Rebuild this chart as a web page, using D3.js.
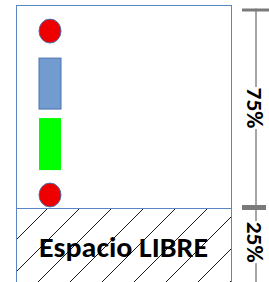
<!DOCTYPE html>
<html><head><meta charset="utf-8">
<script src="https://cdn.jsdelivr.net/npm/d3@7/dist/d3.min.js"></script>
<style>html,body{margin:0;padding:0;background:#fff;overflow:hidden}</style>
</head><body><svg id="c" width="269" height="282"></svg>
<script>
// ---- data ----
const segLabels = ["75%", "25%"];
const segShares = [75, 25];
const freeLabel = "Espacio LIBRE";
const itemShapes = ["circle", "rect", "rect", "circle"];
const itemColors = ["#ee0000", "#729ccf", "#00ff00", "#ee0000"];
const itemStrokes = ["#4a72b0", "#4a72b0", "none", "#4a72b0"];
const itemStart = [4.0, 18.7, 41.3, 65.8];   // % of total height
const itemEnd   = [13.0, 37.9, 60.9, 74.8];

// ---- layout ----
const svg = d3.select("#c");
const W = 269, H = 282;
const box = {x0: 16.5, x1: 231.5, top: 5.5};
const y = d3.scaleLinear().domain([0, 100]).range([8.5, 273.8]);
const cum = d3.cumsum(segShares); // [75,100]
const starts = [0, ...cum.slice(0, -1)];
const xItem = d3.scaleLinear().domain([0, 1]).range([39, 61]);
const FONT = "Carlito, Calibri, Lato, sans-serif";

// hatch pattern
const defs = svg.append("defs");
const pat = defs.append("pattern").attr("id", "hatch")
  .attr("patternUnits", "userSpaceOnUse").attr("width", 32).attr("height", 32)
  .attr("x", 15).attr("y", 209);
[-32, 0, 32].forEach(o => {
  pat.append("line").attr("x1", o).attr("y1", 32).attr("x2", o + 34).attr("y2", -2)
    .attr("stroke", "#000").attr("stroke-width", 0.9);
});

const divY = Math.round(y(cum[0])) + 0.5 + 1;
// free area hatch
svg.append("rect").attr("x", box.x0).attr("y", divY)
  .attr("width", box.x1 - box.x0).attr("height", H + 20 - divY)
  .attr("fill", "url(#hatch)");

// box outline
svg.append("rect").attr("x", box.x0).attr("y", box.top)
  .attr("width", box.x1 - box.x0).attr("height", H + 20)
  .attr("fill", "none").attr("stroke", "#5b86c5").attr("stroke-width", 1);
svg.append("line").attr("x1", box.x0).attr("x2", box.x1).attr("y1", divY).attr("y2", divY)
  .attr("stroke", "#5b86c5").attr("stroke-width", 1);

// items
itemShapes.forEach((s, i) => {
  const y0 = y(itemStart[i]), y1 = y(itemEnd[i]);
  if (s === "circle") {
    svg.append("ellipse").attr("cx", xItem(0.5)).attr("cy", (y0 + y1) / 2)
      .attr("rx", (xItem(1) - xItem(0)) / 2).attr("ry", (y1 - y0) / 2)
      .attr("fill", itemColors[i]).attr("stroke", itemStrokes[i]).attr("stroke-width", 1);
  } else {
    svg.append("rect").attr("x", xItem(0)).attr("y", y0)
      .attr("width", xItem(1) - xItem(0)).attr("height", y1 - y0)
      .attr("fill", itemColors[i]).attr("stroke", itemStrokes[i]).attr("stroke-width", 1);
  }
});

// free label (scaled horizontally to fit the reference width, keeping its height)
const fg = svg.append("g");
const ft = fg.append("text").attr("x", 0).attr("y", 0)
  .attr("text-anchor", "middle").attr("font-family", FONT)
  .attr("font-size", 29).attr("font-weight", 600).attr("fill", "#000").text(freeLabel);
const fl = ft.node().getComputedTextLength();
fg.attr("transform", `translate(123.5,257) scale(${169 / fl},1)`);

// bracket
const bx = 256;
svg.append("line").attr("x1", bx).attr("x2", bx).attr("y1", y(0)).attr("y2", H + 10)
  .attr("stroke", "#a6a6a6").attr("stroke-width", 2);
svg.append("line").attr("x1", 242).attr("x2", 270).attr("y1", y(0) + 1.5).attr("y2", y(0) + 1.5)
  .attr("stroke", "#7a7a7a").attr("stroke-width", 3);
svg.append("line").attr("x1", 242).attr("x2", 266).attr("y1", y(cum[0])).attr("y2", y(cum[0]))
  .attr("stroke", "#7a7a7a").attr("stroke-width", 5);

segLabels.forEach((lab, i) => {
  const cy = (y(starts[i]) + y(cum[i])) / 2 + (i === 1 ? 1.5 : 0);
  const g = svg.append("g").attr("transform", `translate(${bx - 1},${cy}) rotate(90)`);
  const bg = g.append("rect").attr("fill", "#fff");
  const inner = g.append("g");
  const t = inner.append("text").attr("text-anchor", "middle").attr("dy", "0.36em")
    .attr("font-family", FONT).attr("font-weight", 700)
    .attr("font-size", 22).attr("fill", "#000").text(lab);
  const L = t.node().getComputedTextLength();
  inner.attr("transform", `scale(${41 / L},1)`);
  bg.attr("x", -21).attr("y", -8).attr("width", 42).attr("height", 16);
});
</script></body></html>
